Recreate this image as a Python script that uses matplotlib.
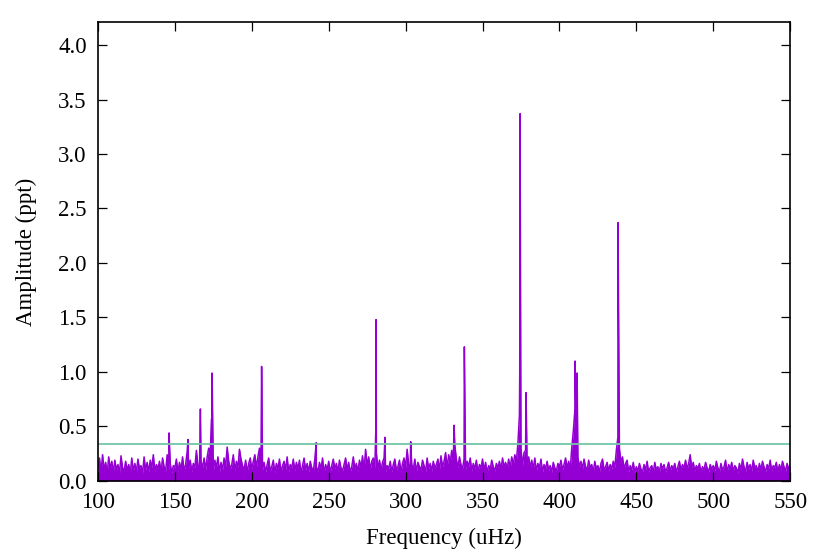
import numpy as np
import matplotlib
matplotlib.use("Agg")
import matplotlib.pyplot as plt

# ==========================================================
# DATA
# ==========================================================

# noise floor, one value per uHz from 100 to 550
freq_start = 100
noise_amp = [
    0.12, 0.21, 0.08, 0.24, 0.10, 0.17, 0.07, 0.22, 0.11, 0.18,
    0.08, 0.19, 0.10, 0.15, 0.07, 0.23, 0.12, 0.09, 0.18, 0.10,
    0.15, 0.07, 0.21, 0.09, 0.16, 0.08, 0.20, 0.11, 0.14, 0.07,
    0.22, 0.10, 0.17, 0.08, 0.19, 0.12, 0.24, 0.09, 0.15, 0.11,
    0.18, 0.08, 0.21, 0.13, 0.09, 0.24, 0.10, 0.16, 0.07, 0.14,
    0.12, 0.20, 0.08, 0.17, 0.10, 0.22, 0.09, 0.15, 0.27, 0.11,
    0.19, 0.08, 0.16, 0.12, 0.28, 0.14, 0.09, 0.18, 0.12, 0.21,
    0.10, 0.22, 0.30, 0.25, 0.16, 0.09, 0.19, 0.12, 0.22, 0.08,
    0.17, 0.10, 0.21, 0.13, 0.31, 0.18, 0.11, 0.15, 0.24, 0.09,
    0.18, 0.12, 0.29, 0.20, 0.14, 0.10, 0.19, 0.08, 0.16, 0.21,
    0.11, 0.18, 0.24, 0.12, 0.22, 0.30, 0.20, 0.10, 0.17, 0.08,
    0.15, 0.21, 0.09, 0.13, 0.19, 0.07, 0.16, 0.11, 0.20, 0.08,
    0.14, 0.18, 0.10, 0.22, 0.08, 0.15, 0.12, 0.20, 0.09, 0.17,
    0.11, 0.19, 0.07, 0.14, 0.21, 0.10, 0.16, 0.08, 0.18, 0.12,
    0.09, 0.20, 0.13, 0.08, 0.17, 0.11, 0.21, 0.07, 0.15, 0.10,
    0.18, 0.08, 0.14, 0.20, 0.11, 0.16, 0.08, 0.19, 0.12, 0.09,
    0.15, 0.21, 0.10, 0.17, 0.08, 0.13, 0.22, 0.11, 0.16, 0.08,
    0.19, 0.12, 0.23, 0.09, 0.29, 0.14, 0.22, 0.10, 0.18, 0.21,
    0.12, 0.26, 0.11, 0.19, 0.10, 0.17, 0.21, 0.08, 0.14, 0.11,
    0.18, 0.08, 0.15, 0.20, 0.10, 0.13, 0.19, 0.08, 0.16, 0.21,
    0.12, 0.29, 0.15, 0.09, 0.15, 0.11, 0.20, 0.08, 0.17, 0.13,
    0.10, 0.19, 0.14, 0.08, 0.21, 0.11, 0.16, 0.09, 0.18, 0.12,
    0.15, 0.20, 0.10, 0.23, 0.13, 0.18, 0.26, 0.12, 0.24, 0.17,
    0.28, 0.16, 0.33, 0.20, 0.12, 0.22, 0.15, 0.11, 0.20, 0.10,
    0.18, 0.13, 0.21, 0.09, 0.16, 0.11, 0.19, 0.08, 0.15, 0.12,
    0.20, 0.10, 0.17, 0.08, 0.14, 0.11, 0.19, 0.13, 0.09, 0.16,
    0.12, 0.18, 0.10, 0.21, 0.13, 0.17, 0.11, 0.20, 0.12, 0.22,
    0.15, 0.24, 0.18, 0.34, 0.60, 0.30, 0.14, 0.26, 0.28, 0.13,
    0.22, 0.12, 0.19, 0.11, 0.21, 0.09, 0.16, 0.12, 0.20, 0.08,
    0.15, 0.11, 0.18, 0.10, 0.14, 0.08, 0.17, 0.12, 0.09, 0.16,
    0.13, 0.19, 0.10, 0.15, 0.21, 0.12, 0.18, 0.10, 0.30, 0.45,
    0.55, 0.38, 0.22, 0.13, 0.18, 0.11, 0.20, 0.13, 0.10, 0.19,
    0.12, 0.15, 0.08, 0.18, 0.11, 0.14, 0.08, 0.16, 0.20, 0.10,
    0.13, 0.17, 0.09, 0.15, 0.11, 0.18, 0.12, 0.28, 0.40, 0.30,
    0.17, 0.22, 0.11, 0.16, 0.19, 0.08, 0.14, 0.10, 0.17, 0.08,
    0.13, 0.09, 0.16, 0.11, 0.08, 0.15, 0.10, 0.18, 0.08, 0.12,
    0.14, 0.08, 0.17, 0.10, 0.13, 0.08, 0.16, 0.11, 0.15, 0.08,
    0.12, 0.17, 0.09, 0.14, 0.11, 0.16, 0.08, 0.13, 0.18, 0.10,
    0.15, 0.12, 0.19, 0.11, 0.16, 0.24, 0.12, 0.17, 0.09, 0.14,
    0.11, 0.16, 0.08, 0.13, 0.10, 0.17, 0.12, 0.08, 0.15, 0.11,
    0.14, 0.09, 0.18, 0.12, 0.08, 0.16, 0.10, 0.13, 0.19, 0.08,
    0.15, 0.11, 0.17, 0.09, 0.14, 0.12, 0.07, 0.16, 0.10, 0.20,
    0.13, 0.08, 0.17, 0.11, 0.15, 0.09, 0.19, 0.12, 0.14, 0.08,
    0.16, 0.10, 0.18, 0.13, 0.08, 0.15, 0.11, 0.19, 0.09, 0.14,
    0.12, 0.17, 0.08, 0.15, 0.10, 0.18, 0.13, 0.09, 0.16, 0.11,
    0.14,
]

# pulsation peaks
peak_freq = [146.2, 158.5, 166.6, 173.9, 174.2, 206.4, 241.9,
             280.6, 280.8, 286.6, 303.3, 331.5, 338.2,
             374.2, 374.4, 378.3, 410.0, 410.2, 411.5, 438.1]
peak_amp = [0.44, 0.38, 0.66, 0.57, 0.99, 1.05, 0.35,
            0.45, 1.48, 0.40, 0.36, 0.51, 1.23,
            1.00, 3.37, 0.81, 0.64, 1.10, 0.99, 2.37]

threshold = 0.335

# ==========================================================
# MERGE
# ==========================================================

noise_freq = freq_start + np.arange(len(noise_amp))

freq = np.concatenate([noise_freq, peak_freq])
amp = np.concatenate([noise_amp, peak_amp])
order = np.argsort(freq)
freq = freq[order]
amp = amp[order]

# ==========================================================
# FIGURE
# ==========================================================

plt.rcParams["font.family"] = ["Liberation Serif", "DejaVu Serif"]
plt.rcParams["font.size"] = 16.5

fig = plt.figure(figsize=(8.3, 5.54), dpi=100)
ax = fig.add_axes([0.118, 0.132, 0.834, 0.828])

purple = "#9400d3"

ax.fill_between(freq, 0, amp, color=purple, linewidth=0)
ax.plot(freq, amp, color=purple, linewidth=1.1)

ax.axhline(threshold, color="#72c6a8", linewidth=1.3)

ax.set_xlim(100, 550)
ax.set_ylim(0, 4.21)

ax.set_xticks(np.arange(100, 551, 50))
ax.set_yticks(np.arange(0, 4.01, 0.5))
ax.set_yticklabels([f"{v:.1f}" for v in np.arange(0, 4.01, 0.5)])

ax.tick_params(direction="in", length=6.5, width=0.9,
               top=True, right=True)
ax.tick_params(axis="x", pad=8)
ax.tick_params(axis="y", pad=8)

for sp in ax.spines.values():
    sp.set_linewidth(1.2)

ax.set_xlabel("Frequency (uHz)", labelpad=11)
ax.set_ylabel("Amplitude (ppt)", labelpad=15)

fig.savefig("out.png", dpi=100)
